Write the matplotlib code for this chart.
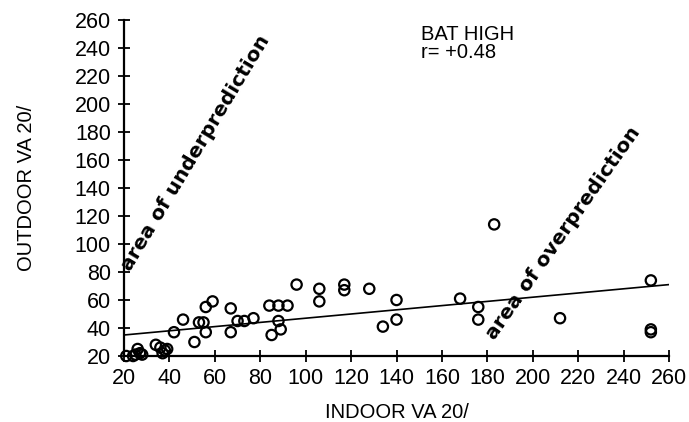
import matplotlib
matplotlib.use("Agg")
import matplotlib.pyplot as plt
import numpy as np

# ---- data ----
indoor = [21, 24, 25, 26, 27, 28,
          34, 36, 37, 38, 39,
          42, 46, 51, 53, 55, 56, 56, 59,
          67, 67, 70, 73, 77,
          84, 85, 88, 88, 89, 92,
          96, 106, 106, 117, 117, 128,
          134, 140, 140, 168, 176, 176, 183, 212, 252, 252, 252]
outdoor = [20, 20, 21, 25, 22, 21,
           28, 26, 22, 24, 25,
           37, 46, 30, 44, 44, 37, 55, 59,
           54, 37, 45, 45, 47,
           56, 35, 56, 45, 39, 56,
           71, 68, 59, 71, 67, 68,
           41, 60, 46, 61, 55, 46, 114, 47, 74, 37, 39]

fit_intercept = 32.0
fit_slope = 0.15
fit_range = [20, 260]

x_ticks = list(range(20, 261, 20))
y_ticks = list(range(20, 261, 20))

title_lines = ["BAT HIGH", "r= +0.48"]
x_label = "INDOOR VA 20/"
y_label = "OUTDOOR VA 20/"
under_text = "area of underprediction"
over_text = "area of overprediction"

plt.rcParams['font.family'] = ['Liberation Sans', 'DejaVu Sans']

fig = plt.figure(figsize=(6.89, 4.22), dpi=100)
ax = fig.add_axes([0.18, 0.1564, 0.791, 0.7962])

ax.scatter(indoor, outdoor, s=55, facecolors='none', edgecolors='black',
           linewidths=1.6, zorder=3, clip_on=False)

fx = np.array(fit_range, dtype=float)
ax.plot(fx, fit_intercept + fit_slope * fx, color='black', lw=1.2, zorder=2)

ax.set_xlim(20, 260)
ax.set_ylim(20, 260)
ax.set_xticks(x_ticks)
ax.set_yticks(y_ticks)
ax.tick_params(axis='both', direction='inout', length=9, width=1.3,
               labelsize=15.5)
ax.tick_params(axis='y', pad=5)
ax.tick_params(axis='x', pad=4)
for s in ['top', 'right']:
    ax.spines[s].set_visible(False)
for s in ['left', 'bottom']:
    ax.spines[s].set_linewidth(1.6)

ax.set_xlabel(x_label, fontsize=14.5, labelpad=10)
ax.set_ylabel(y_label, fontsize=14.5)
ax.yaxis.set_label_coords(-0.162, 0.5)

ax.text(150.8, 233.0, "\n".join(title_lines), fontsize=14.5, ha='left',
        va='baseline', linespacing=0.95)

ax.text(51.7, 165, under_text, fontsize=14.5, fontweight='heavy',
        family='DejaVu Sans', rotation=59, rotation_mode='anchor',
        ha='center', va='center')
ax.text(213.4, 108, over_text, fontsize=14.5, fontweight='heavy',
        family='DejaVu Sans', rotation=55, rotation_mode='anchor',
        ha='center', va='center')

fig.savefig('out.png', dpi=100)
